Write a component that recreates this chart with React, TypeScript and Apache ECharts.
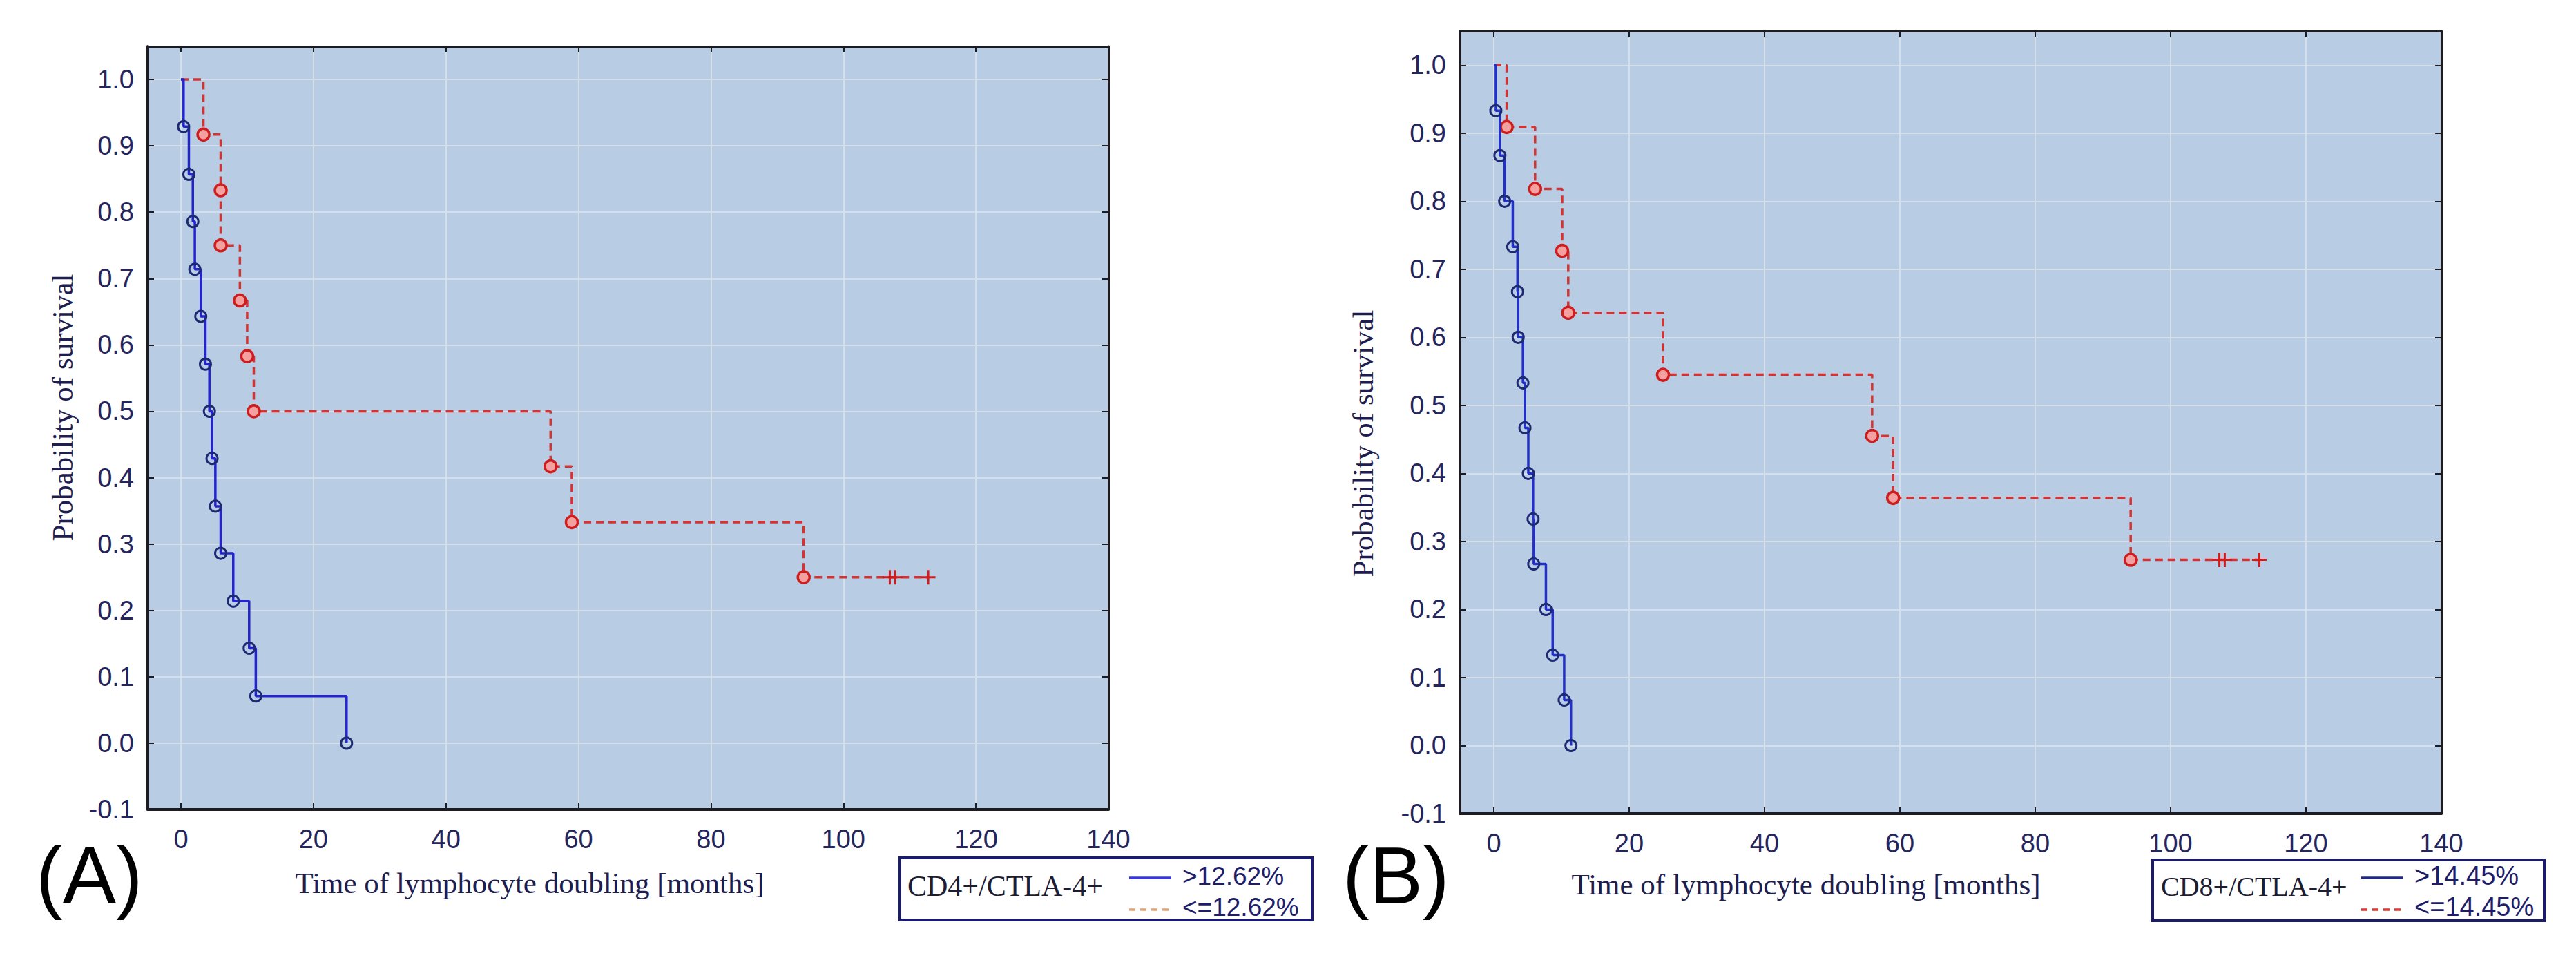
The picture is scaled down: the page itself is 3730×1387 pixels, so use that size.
import React, { useEffect, useRef } from "react";
import * as echarts from "echarts";

// ---------- Data ----------
// Panel A: CD4+/CTLA-4+
const blueA_times = [0.4, 1.2, 1.8, 2.1, 3.0, 3.7, 4.3, 4.7, 5.2, 6.0, 7.9, 10.3, 11.3, 25.0];
const blueA_surv = [0.929, 0.857, 0.786, 0.714, 0.643, 0.571, 0.5, 0.429, 0.357, 0.286, 0.214, 0.143, 0.071, 0.0];
const redA_times = [3.4, 6.0, 6.0, 8.9, 10.0, 11.0, 55.8, 59.0, 94.0];
const redA_surv = [0.917, 0.833, 0.75, 0.667, 0.583, 0.5, 0.417, 0.333, 0.25];
const redA_censored = [107.0, 107.8, 112.8];

// Panel B: CD8+/CTLA-4+
const blueB_times = [0.3, 0.9, 1.6, 2.8, 3.5, 3.6, 4.3, 4.6, 5.1, 5.8, 5.9, 7.7, 8.7, 10.4, 11.4];
const blueB_surv = [0.933, 0.867, 0.8, 0.733, 0.667, 0.6, 0.533, 0.467, 0.4, 0.333, 0.267, 0.2, 0.133, 0.067, 0.0];
const redB_times = [1.9, 6.1, 10.1, 11.0, 25.0, 55.9, 59.0, 94.1];
const redB_surv = [0.909, 0.818, 0.727, 0.636, 0.545, 0.455, 0.364, 0.273];
const redB_censored = [107.2, 108.0, 113.1];

const xTickLabels = ["0", "20", "40", "60", "80", "100", "120", "140"];
const yTickLabels = ["-0.1", "0.0", "0.1", "0.2", "0.3", "0.4", "0.5", "0.6", "0.7", "0.8", "0.9", "1.0"];

const legendA = { title: "CD4+/CTLA-4+", high: ">12.62%", low: "<=12.62%" };
const legendB = { title: "CD8+/CTLA-4+", high: ">14.45%", low: "<=14.45%" };

const yTitle = "Probability of survival";
const xTitle = "Time of lymphocyte doubling [months]";

// ---------- Styles ----------
const NAVY = "#25255e";
const PLOT_BG = "#b8cce4";
const GRID_LINE = "#d5dfec";
const BORDER = "#1c1c22";
const PLUS = "path://M-1,-7H1V-1H7V1H1V7H-1V1H-7V-1H-1Z";

function kmData(times: number[], surv: number[], cens: number[], censColor: string) {
  const d: any[] = [{ value: [0, 1], symbol: "none" }];
  times.forEach((t, i) => d.push([t, surv[i]]));
  const last = surv[surv.length - 1];
  cens.forEach((t) =>
    d.push({
      value: [t, last],
      symbol: PLUS,
      symbolSize: 21,
      itemStyle: { color: censColor, borderWidth: 0 },
    })
  );
  return d;
}

function axes(gridIndex: number) {
  const xLabelFmt = (v: number) => {
    const s = String(Math.round(v));
    return Math.abs(v - Math.round(v)) < 1e-6 && xTickLabels.indexOf(s) >= 0 ? s : "";
  };
  const yLabelFmt = (v: number) => {
    const s = (Math.round(v * 10) / 10).toFixed(1);
    return Math.abs(v * 10 - Math.round(v * 10)) < 1e-6 && yTickLabels.indexOf(s) >= 0 ? s : "";
  };
  const labelStyle = {
    color: NAVY,
    fontSize: 38,
    fontFamily: "'Liberation Sans', Arial, sans-serif",
  };
  const xBase = { type: "value", gridIndex, min: -5, max: 140, splitNumber: 7 };
  const yBase = { type: "value", gridIndex, min: -0.1, max: 1.05, interval: 0.1 };
  const tick = { show: true, inside: true, length: 9, lineStyle: { color: BORDER, width: 2 } };
  return {
    x: [
      {
        ...xBase,
        position: "bottom",
        axisLine: { show: true, onZero: false, lineStyle: { color: BORDER, width: 4 } },
        axisTick: tick,
        axisLabel: { ...labelStyle, margin: 24, formatter: xLabelFmt },
        splitLine: { show: true, lineStyle: { color: GRID_LINE, width: 2 } },
      },
      {
        ...xBase,
        position: "top",
        axisLine: { show: true, onZero: false, lineStyle: { color: BORDER, width: 3 } },
        axisTick: tick,
        axisLabel: { show: false },
        splitLine: { show: false },
      },
    ],
    y: [
      {
        ...yBase,
        position: "left",
        axisLine: { show: true, onZero: false, lineStyle: { color: BORDER, width: 4 } },
        axisTick: tick,
        axisLabel: { ...labelStyle, margin: 20, formatter: yLabelFmt },
        splitLine: { show: true, lineStyle: { color: GRID_LINE, width: 2 } },
      },
      {
        ...yBase,
        position: "right",
        axisLine: { show: true, onZero: false, lineStyle: { color: BORDER, width: 3 } },
        axisTick: tick,
        axisLabel: { show: false },
        splitLine: { show: false },
      },
    ],
  };
}

function blueSeries(xi: number, yi: number, data: any[], lineColor: string) {
  return {
    type: "line",
    xAxisIndex: xi,
    yAxisIndex: yi,
    step: "end",
    data,
    symbol: "circle",
    symbolSize: 16,
    lineStyle: { color: lineColor, width: 3.5 },
    itemStyle: { color: "rgba(0,0,0,0)", borderColor: "#1d2a72", borderWidth: 3 },
    emphasis: { disabled: true },
    z: 4,
  };
}

function redSeries(xi: number, yi: number, data: any[]) {
  return {
    type: "line",
    xAxisIndex: xi,
    yAxisIndex: yi,
    step: "end",
    data,
    symbol: "circle",
    symbolSize: 17,
    lineStyle: { color: "#d23434", width: 3.5, type: [11, 7] },
    itemStyle: { color: "#f3a0a0", borderColor: "#cf1d1d", borderWidth: 3.5 },
    emphasis: { disabled: true },
    z: 3,
  };
}

function legendGraphics(
  box: { x: number; y: number; w: number; h: number },
  txt: { title: string; high: string; low: string },
  titleX: number,
  titleSize: number,
  lineX1: number,
  lineX2: number,
  labelX: number,
  labelSize: number,
  solidColor: string,
  dashColor: string
) {
  return [
    {
      type: "rect",
      shape: { x: box.x, y: box.y, width: box.w, height: box.h },
      style: { fill: "#ffffff", stroke: "#1b1b6e", lineWidth: 4 },
      z: 10,
    },
    {
      type: "text",
      x: titleX,
      y: 1283,
      style: {
        text: txt.title,
        fill: "#1c1c34",
        font: `${titleSize}px 'Liberation Serif', 'Times New Roman', serif`,
        textAlign: "left",
        textVerticalAlign: "middle",
      },
      z: 11,
    },
    {
      type: "line",
      shape: { x1: lineX1, y1: 1271, x2: lineX2, y2: 1271 },
      style: { stroke: solidColor, lineWidth: 3.5 },
      z: 11,
    },
    {
      type: "line",
      shape: { x1: lineX1, y1: 1317, x2: lineX2, y2: 1317 },
      style: { stroke: dashColor, lineWidth: 3.5, lineDash: [9, 7] },
      z: 11,
    },
    {
      type: "text",
      x: labelX,
      y: 1268,
      style: {
        text: txt.high,
        fill: "#1d1d6a",
        font: `${labelSize}px 'Liberation Sans', Arial, sans-serif`,
        textAlign: "left",
        textVerticalAlign: "middle",
        lineHeight: labelSize,
      },
      z: 11,
    },
    {
      type: "text",
      x: labelX,
      y: 1313,
      style: {
        text: txt.low,
        fill: "#1d1d6a",
        font: `${labelSize}px 'Liberation Sans', Arial, sans-serif`,
        textAlign: "left",
        textVerticalAlign: "middle",
        lineHeight: labelSize,
      },
      z: 11,
    },
  ];
}

function textEl(
  text: string,
  x: number,
  y: number,
  font: string,
  fill: string,
  rotation = 0,
  align = "center",
  lineHeight?: number
) {
  const style: any = { text, fill, font, textAlign: align, textVerticalAlign: "middle" };
  if (lineHeight) style.lineHeight = lineHeight;
  return { type: "text", x, y, rotation, style, z: 10 };
}

export default function App() {
  const ref = useRef<HTMLDivElement>(null);

  useEffect(() => {
    if (!ref.current) return;
    const chart = echarts.init(ref.current, undefined, { renderer: "svg" });
    const a = axes(0);
    const b = axes(1);
    const serifTitle = "43px 'Liberation Serif', 'Times New Roman', serif";
    const panelFont = "116px 'Liberation Sans', Arial, sans-serif";

    const option: any = {
      animation: false,
      backgroundColor: "#ffffff",
      grid: [
        { left: 214, top: 67, width: 1391, height: 1105, show: true, backgroundColor: PLOT_BG, borderWidth: 0 },
        { left: 2114, top: 45, width: 1421, height: 1133, show: true, backgroundColor: PLOT_BG, borderWidth: 0 },
      ],
      xAxis: [...a.x, ...b.x],
      yAxis: [...a.y, ...b.y],
      series: [
        redSeries(0, 0, kmData(redA_times, redA_surv, redA_censored, "#d21c1c")),
        blueSeries(0, 0, kmData(blueA_times, blueA_surv, [], "#1d2a72"), "#2424cc"),
        redSeries(2, 2, kmData(redB_times, redB_surv, redB_censored, "#d21c1c")),
        blueSeries(2, 2, kmData(blueB_times, blueB_surv, [], "#1d2a72"), "#2330c8"),
      ],
      graphic: [
        textEl(yTitle, 90, 590, serifTitle, "#1d1d50", Math.PI / 2),
        textEl(yTitle, 1973, 642, serifTitle, "#1d1d50", Math.PI / 2),
        textEl(xTitle, 767, 1278, serifTitle, "#1d1d50"),
        textEl(xTitle, 2615, 1280, serifTitle, "#1d1d50"),
        textEl("(A)", 52, 1268, panelFont, "#000000", 0, "left", 116),
        textEl("(B)", 1944, 1268, panelFont, "#000000", 0, "left", 116),
        ...legendGraphics(
          { x: 1303, y: 1242, w: 597, h: 90 },
          legendA,
          1314,
          42,
          1635,
          1696,
          1712,
          37,
          "#3838e2",
          "#e2a474"
        ),
        ...legendGraphics(
          { x: 3117, y: 1245, w: 567, h: 88 },
          legendB,
          3129,
          40,
          3419,
          3480,
          3496,
          38,
          "#1f2a88",
          "#e23434"
        ),
      ],
    };
    chart.setOption(option);
    return () => chart.dispose();
  }, []);

  return (
    <div
      ref={ref}
      style={{ position: "absolute", left: 0, top: 0, width: 3730, height: 1387, background: "#fff" }}
    />
  );
}
